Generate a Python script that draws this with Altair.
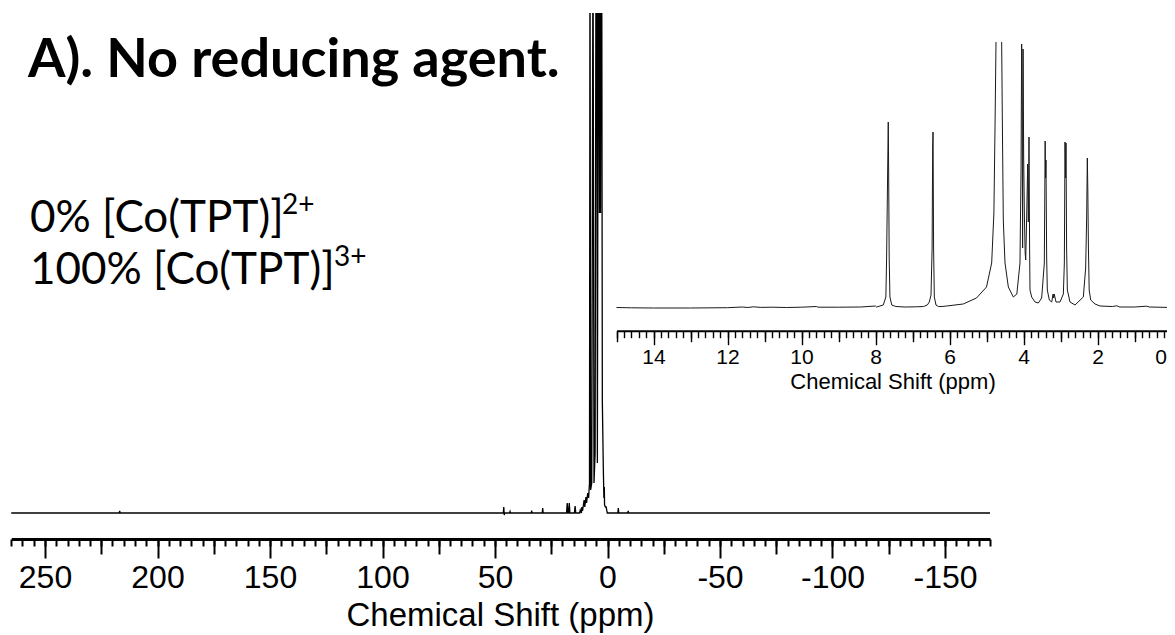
import altair as alt
import pandas as pd

# ---------------- data ----------------
# main (wide-range) spectrum: chemical shift (ppm) and intensity (arbitrary units, 500 = top of frame)
main_ppm = [265, 217.0, 216.8, 216.6, 46.3, 46.1, 45.9, 45.7, 43.5, 43.3, 43.1, 33.9, 33.7, 33.5,
            29.0, 28.8, 28.6, 18.2, 17.9, 17.6, 17.3, 17.0, 16.7, 14.7, 14.4, 14.1, 12.4, 12.1,
            11.6, 11.4, 11.1, 10.4, 10.1, 9.6, 9.3, 8.8, 8.4, 8.0, 7.78, 7.5, 7.0, 6.44, 6.0,
            5.5, 5.1, 4.8, 4.5, 4.09, 3.87, 3.6, 3.41, 3.1, 2.87, 2.58, 2.3, 1.87, 1.6, 1.42,
            1.3, 0.9, 0.6, 0.1, -2.5, -4.6, -4.8, -5.0, -9.0, -9.2, -9.4, -170]
main_int = [0, 0, 2, 0, 0, 6, -2, 0, 0, 1.5, 0, 0, 2.5, 0,
            0, 5, 0, 0, 10, 0, 0, 10, 0, 0, 7, 0, 0, 3,
            0, 6, 2, 13, 6, 16, 10, 20, 15, 30, 600, 23, 30, 600, 30,
            60, 600, 600, 50, 600, 600, 300, 600, 300, 600, 600, 113, 46, 15, 26,
            8, 6, 6, 0, 0, 0, 5, 0, 0, 2, 0, 0]

# inset (0-15 ppm) spectrum; 266 = top of inset frame, seg splits the off-scale water peak
inset_ppm = [15.0, 14.6, 14.0, 13.0, 12.0, 11.6, 11.45, 11.3, 11.1, 10.8, 10.4, 10.0, 9.6, 9.55,
             9.0, 8.4, 8.0, 7.97, 7.79, 7.72, 7.70, 7.655, 7.645, 7.63, 7.61, 7.56, 7.45, 7.2,
             6.9, 6.7, 6.60, 6.546, 6.50, 6.47, 6.455, 6.445, 6.43, 6.41, 6.365, 6.30, 6.2,
             6.08, 5.63, 5.27, 5.0, 4.86, 4.80, 4.77, 4.743,
             4.59, 4.57, 4.546, 4.50, 4.41, 4.275, 4.18, 4.095, 4.067, 4.05, 4.036, 4.024,
             4.012, 3.995, 3.975, 3.955, 3.94, 3.915, 3.887, 3.869, 3.851, 3.835, 3.824, 3.779,
             3.689, 3.599, 3.509, 3.437, 3.415, 3.403, 3.392, 3.374, 3.356, 3.302, 3.238, 3.20,
             3.185, 3.17, 3.121, 3.013, 2.923, 2.896, 2.878, 2.862, 2.851, 2.835, 2.815, 2.743,
             2.608, 2.383, 2.32, 2.293, 2.275, 2.262, 2.245, 2.225, 2.184, 2.067, 1.932, 1.6,
             1.48, 1.4, 1.0, 0.67, 0.6, 0.0]
inset_int = [0.5, 0.2, 0, 0, 0.3, 1.0, 0.5, 1.2, 0.6, 0.8, 0.5, 0.8, 1.5, 0.8,
             0.8, 1.0, 2, 1, 3, 11, 50, 186, 140, 50, 11, 3, 1.5, 1,
             1.2, 1.5, 3, 6, 13, 60, 161, 176, 60, 11, 3, 1.5, 1.5,
             2, 4, 10, 21, 45, 95, 180, 266,
             266, 180, 88, 45, 21, 11, 14, 45, 138, 264, 206, 60,
             259, 150, 90, 55, 48, 90, 144, 86, 171, 60, 18, 11,
             6, 5, 10, 45, 167, 130, 148, 50, 18, 8, 6, 14,
             10, 14, 6, 6, 14, 45, 166, 130, 165, 60, 18, 6,
             3, 11, 40, 91, 150, 120, 60, 18, 8, 4, 2, 1.5,
             2.2, 1, 1, 1.8, 1, 0.5]
inset_seg = [0] * 49 + [1] * (len(inset_ppm) - 49)

# tick values / labels
main_major = [250, 200, 150, 100, 50, 0, -50, -100, -150]
main_mid = [225, 175, 125, 75, 25, -25, -75, -125]
main_minor = list(range(265, -171, -5))
inset_major = [14, 12, 10, 8, 6, 4, 2, 0]
inset_mid = [15, 13, 11, 9, 7, 5, 3, 1]
inset_minor = [round(15 - 0.2 * i, 1) for i in range(76)]

axis_title = "Chemical Shift (ppm)"
heading = ["A). No reducing agent."]
line1 = ["0% [Co(TPT)]"]
sup1 = ["2+"]
line2 = ["100% [Co(TPT)]"]
sup2 = ["3+"]

main_df = pd.DataFrame({"ppm": main_ppm, "intensity": main_int})
inset_df = pd.DataFrame({"ppm": inset_ppm, "intensity": inset_int, "seg": inset_seg})

# ---------------- styling ----------------
W, H = 1159, 526
PAD_TOP, PAD_BOTTOM = 5, 96
AX_FONT = "Liberation Sans"
TXT_FONT = "Lato"

main_x = alt.Scale(domain=[265, -170], range=[3.25, 982], nice=False, zero=False)
inset_x = alt.Scale(domain=[15, 0], range=[608.5, 1163.5], nice=False, zero=False)
main_y = alt.Scale(domain=[0, 500], range=[500, 0], nice=False, zero=False)
inset_y = alt.Scale(domain=[0, 266], range=[295, 29], nice=False, zero=False)
INSET_OFFSET = -208.3


def tick_axis(values, size, width, offset=0):
    return alt.Axis(values=values, orient="bottom", tickSize=size, tickWidth=width,
                    tickColor="black", domain=False, labels=False, grid=False, title="",
                    offset=offset)


main_line = alt.Chart(main_df).mark_line(color="black", strokeWidth=1.3, clip=True).encode(
    x=alt.X("ppm:Q", scale=main_x, axis=alt.Axis(
        values=main_major, orient="bottom", tickSize=19, tickWidth=2, tickColor="black",
        domainWidth=3, domainColor="black", labelFont=AX_FONT, labelFontSize=32,
        labelColor="black", labelPadding=4, labelExpr="'' + datum.value", labelFlush=False,
        labelOverlap=False, grid=False, title=axis_title, titleFont=AX_FONT,
        titleFontSize=33, titleFontWeight="normal", titleColor="black", titleX=492,
        titleY=86, titleAlign="center", titleBaseline="alphabetic")),
    y=alt.Y("intensity:Q", scale=main_y, axis=None),
)

main_mid_ticks = alt.Chart(main_df).mark_point(opacity=0).encode(
    x=alt.X("ppm:Q", scale=main_x, axis=tick_axis(main_mid, 15, 2)))
main_minor_ticks = alt.Chart(main_df).mark_point(opacity=0).encode(
    x=alt.X("ppm:Q", scale=main_x, axis=tick_axis(main_minor, 7, 2)))

inset_line = alt.Chart(inset_df).mark_line(color="#1a1a1a", strokeWidth=1).encode(
    x=alt.X("ppm:Q", scale=inset_x, axis=alt.Axis(
        values=inset_major, orient="bottom", offset=INSET_OFFSET, tickSize=14,
        tickWidth=1.4, tickColor="black", domainWidth=2, domainColor="black",
        labelFont=AX_FONT, labelFontSize=21, labelColor="black", labelPadding=2,
        labelOffset=alt.ExprRef(expr="datum.value == 0 ? -11 : 0"),
        labelFlush=False, labelOverlap=False, grid=False, title=axis_title,
        titleFont=AX_FONT, titleFontSize=22, titleFontWeight="normal", titleColor="black",
        titleX=884.5, titleY=58, titleAlign="center", titleBaseline="alphabetic")),
    y=alt.Y("intensity:Q", scale=inset_y, axis=None),
    detail="seg:N",
)
inset_mid_ticks = alt.Chart(inset_df).mark_point(opacity=0).encode(
    x=alt.X("ppm:Q", scale=inset_x, axis=tick_axis(inset_mid, 11, 1.4, INSET_OFFSET)))
inset_minor_ticks = alt.Chart(inset_df).mark_point(opacity=0).encode(
    x=alt.X("ppm:Q", scale=inset_x, axis=tick_axis(inset_minor, 7, 1.4, INSET_OFFSET)))


def text_layer(values, x, y, size, weight="normal"):
    return alt.Chart(pd.DataFrame({"t": values})).mark_text(
        font=TXT_FONT, fontSize=size, fontWeight=weight, color="black",
        align="left", baseline="alphabetic").encode(
        text="t:N", x=alt.value(x), y=alt.value(y))


texts = [
    text_layer(heading, 20, 64, 54, "bold"),
    text_layer(line1, 22, 219, 44),
    text_layer(sup1, 274, 201, 28),
    text_layer(line2, 22, 271, 44),
    text_layer(sup2, 326, 253, 28),
]

chart = alt.layer(
    main_minor_ticks, main_mid_ticks, main_line,
    inset_minor_ticks, inset_mid_ticks, inset_line,
    *texts,
).resolve_scale(x="independent", y="independent").properties(
    width=W, height=H,
    padding={"left": 0, "top": PAD_TOP, "right": 0, "bottom": PAD_BOTTOM},
    autosize=alt.AutoSizeParams(type="none"),
    background="white",
).configure_view(stroke=None)

chart.save("out.html", embed_options={"renderer": "svg", "actions": False})
